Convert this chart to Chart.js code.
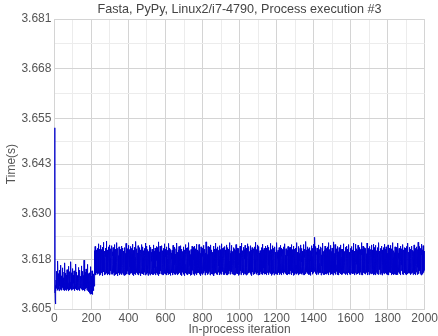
<!DOCTYPE html>
<html>
<head>
<meta charset="utf-8">
<script src="https://cdn.jsdelivr.net/npm/chart.js@4/dist/chart.umd.min.js"></script>
<style>
  html, body { margin: 0; padding: 0; background: #fff; }
  #wrap { width: 438px; height: 336px; position: relative; }
</style>
</head>
<body>
<div id="wrap"><canvas id="chart"></canvas></div>
<script>
// chart text
var chartTitle = 'Fasta, PyPy, Linux2/i7-4790, Process execution #3';
var xTitle = 'In-process iteration';
var yTitle = 'Time(s)';

// axis ticks
var yTickLabels = ['3.605', '3.618', '3.630', '3.643', '3.655', '3.668', '3.681'];
var xTickLabels = [0, 200, 400, 600, 800, 1000, 1200, 1400, 1600, 1800, 2000];

// time per iteration, in 0.1 ms above 3.600 s
var warmup = [525, 118, 104, 92, 71, 63, 88, 112, 97, 126, 108,
  131,104,149,112,99,138,121,107,176,115,102,143,109,127,98,152,118,105,134,111,
  146,101,123,108,165,114,99,137,120,103,128,112,158,106,141,117,100,132,109,124,
  103,147,119,98,136,113,171,105,129,110,144,101,122,139,107,116,99,153,112,126,
  108,134,102,119,162,111,97,140,125,104,131,115,148,100,121,109,137,103,174,118,
  127,99,145,112,106,133,120,101,156,114,108,139,102,124,117,150,105,129,111,98,
  142,116,103,135,109,168,121,100,131,113,147,104,126,110,99,138,119,106,159,115,
  101,130,112,144,107,123,98,152,117,105,136,110,127,102,163,114,108,141,120,99,
  134,111,104,149,116,125,100,138,109,178,113,106,132,121,97,146,118,103,129,112,
  155,105,123,110,140,99,119,133,107,167,114,101,128,116,143,96,124,109,137,92,
  118,145,89,127,104,161,112,95,136,108,122,90,150,113,99,131,88,119,142,106,
  125,98,134,110];

var steady = [
  188,147,203,159,142,214,171,150,196,139,182,205,155,144,193,167,209,148,176,141,
  199,158,143,221,165,151,190,138,207,173,146,185,201,153,140,217,162,149,194,178,
  145,206,169,137,189,212,156,143,198,164,151,225,147,183,139,202,171,154,192,146,
  210,160,141,187,199,149,228,166,144,181,205,152,139,196,175,148,213,158,142,191,
  170,203,146,155,218,139,184,197,150,162,208,143,179,194,153,141,216,167,148,200,
  141,189,211,157,145,173,204,138,193,168,152,219,147,186,160,140,207,178,149,195,
  163,142,224,171,150,198,137,185,209,155,144,190,176,151,213,146,168,201,139,182,
  206,154,143,195,167,148,215,140,179,199,158,145,187,210,152,164,141,202,174,147,
  192,138,211,161,150,184,205,144,170,196,153,139,222,166,148,189,157,142,208,180,
  149,201,163,141,217,156,145,193,172,139,206,185,150,160,198,143,214,168,147,188,
  177,144,209,158,151,195,140,183,220,162,146,191,204,153,138,170,199,149,212,164,
  143,186,202,154,140,227,169,148,193,159,145,208,176,141,197,183,152,216,161,147,
  200,139,174,211,155,144,189,166,150,205,137,181,196,158,143,219,171,149,192,162,
  148,213,160,142,184,203,153,140,198,175,146,209,165,151,190,139,223,170,145,186,
  159,197,141,178,215,149,163,206,144,187,154,138,201,172,147,194,161,143,217,180,
  204,152,139,191,168,145,212,157,150,183,199,142,175,207,148,164,140,196,185,153,
  140,218,166,149,188,202,143,171,158,210,146,180,197,139,161,214,154,144,193,177,
  211,147,182,160,141,205,169,151,226,138,189,173,145,200,156,142,215,163,150,194,
  165,142,199,184,148,155,216,140,178,203,151,167,144,209,186,139,192,158,147,221,
  143,195,162,152,207,174,141,187,198,146,159,213,150,139,181,204,155,144,190,170,
  198,156,140,222,167,148,193,179,142,210,160,151,185,138,206,172,145,197,163,149,
  181,204,146,161,192,139,217,153,144,188,200,157,141,175,212,148,166,194,140,183,
  150,171,208,143,186,158,147,223,165,139,199,178,152,145,205,161,190,142,214,168,
  209,145,176,197,154,140,183,216,149,162,191,143,207,170,138,185,156,201,146,173,
  162,189,141,213,160,151,198,137,180,205,148,167,219,144,158,193,175,141,210,152,
  147,200,184,139,169,211,155,143,196,173,150,224,159,142,187,203,146,164,190,138,
  193,153,142,206,177,148,189,162,140,215,168,151,182,199,145,157,212,141,179,195,
  138,174,215,150,163,194,143,208,171,147,185,160,139,220,176,152,198,144,166,205,
  186,161,145,201,149,157,219,142,191,167,141,206,183,150,173,196,138,213,159,148,
  204,143,179,166,152,210,140,188,202,155,146,170,217,144,194,162,149,185,207,139,
  168,197,150,141,226,164,153,184,145,209,175,140,193,158,151,214,171,143,200,181,
  145,212,159,148,190,203,139,177,163,152,218,147,186,198,142,169,205,156,141,192,
  199,157,144,180,215,149,166,137,207,188,154,143,196,172,160,223,145,183,151,202,
  155,141,208,170,147,195,182,140,213,161,150,191,204,146,163,178,139,216,168,153,
  190,206,152,143,174,199,158,145,221,167,141,187,209,155,148,194,162,140,211,176,
  142,183,169,156,214,140,197,175,149,205,160,144,189,218,153,139,201,173,147,186,
  211,151,139,198,165,146,207,184,143,176,193,157,150,224,141,170,196,161,148,203,
  160,195,148,217,155,142,186,201,152,164,141,211,179,145,192,168,139,208,183,150,
  177,140,204,189,147,158,219,143,172,198,156,149,210,165,142,185,203,151,138,194,
  147,209,164,141,196,180,153,144,215,171,150,187,199,140,162,223,157,146,191,174,
  203,156,145,185,166,139,212,176,151,194,143,206,160,148,181,217,142,170,198,154,
  139,192,210,148,173,159,141,221,167,152,200,184,144,163,195,150,214,146,178,201,
  170,149,197,158,143,216,182,140,205,165,154,189,138,211,175,147,196,161,145,208,
  195,163,140,204,187,150,169,213,142,180,199,156,146,225,160,141,190,172,153,206,
  151,218,174,145,192,139,207,162,149,184,214,143,168,197,155,140,203,179,148,188,
  184,142,200,166,153,211,146,175,194,140,220,159,150,182,205,144,171,157,209,141,
  158,206,147,193,170,142,189,215,151,163,198,139,210,176,145,186,160,152,217,167,
  212,151,188,140,164,203,155,146,197,181,143,222,161,149,193,170,138,206,185,154,
  146,178,216,157,141,195,168,152,209,144,186,201,139,175,162,148,213,190,143,199,
  191,160,143,208,179,150,141,224,166,155,199,140,182,204,153,145,193,171,160,211,
  140,201,186,149,168,217,143,158,194,177,146,210,162,139,188,206,152,164,145,196,
  205,147,170,197,141,213,160,151,183,146,221,167,143,191,175,150,208,156,140,187,
  166,193,145,204,158,139,189,214,148,172,200,155,142,211,164,179,141,197,183,151,
  150,212,176,143,198,162,147,219,140,185,206,159,145,171,194,138,215,168,153,190,
  182,155,140,207,170,152,196,143,178,210,149,165,187,141,224,160,146,199,174,157,
  144,188,203,160,147,214,139,182,196,153,142,176,209,150,167,191,143,218,161,148,
  209,141,173,189,156,145,202,168,140,219,181,151,194,162,147,207,178,139,185,200,
  157,198,150,142,227,171,146,190,205,154,161,143,213,185,149,196,140,172,208,163,
  194,166,145,211,180,141,186,159,152,203,138,176,199,147,216,164,150,189,142,205,
  141,209,188,153,169,196,144,220,162,148,183,207,238,174,195,155,143,214,170,149,
  200,150,139,193,210,157,146,180,165,141,218,186,151,198,143,170,206,159,145,191,
  168,182,213,145,160,201,139,175,192,149,163,210,144,187,155,223,146,178,201,140,
  147,196,163,140,205,176,152,215,148,184,199,157,142,192,168,141,209,181,150,203,
  213,154,144,188,171,139,224,160,149,197,146,179,206,153,165,191,140,217,172,145,
  176,142,201,161,150,210,185,143,195,158,139,204,170,152,226,147,183,196,144,165,
  152,219,173,146,187,199,141,166,208,155,148,193,177,140,214,163,151,200,186,142,
  195,164,139,211,157,145,190,205,150,174,142,218,169,147,186,198,155,140,207,179,
  141,186,207,152,162,196,144,179,221,160,149,201,143,183,171,154,212,140,193,168,
  204,151,176,143,215,182,147,165,198,139,207,160,152,190,176,145,219,163,141,197,
  165,199,148,188,140,209,171,156,144,214,180,150,196,162,142,205,187,149,168,223,
  143,210,161,151,193,176,139,202,185,147,220,158,145,189,172,141,208,196,154,167,
  190,148,204,169,142,217,155,183,199,144,163,211,150,177,140,194,206,157,146,182,
  158,175,140,224,166,149,192,207,143,171,186,139,215,160,153,198,145,181,203,151,
  211,143,187,157,145,200,178,141,209,164,152,195,170,146,223,155,139,189,174,162,
  147,196,209,150,167,140,214,181,153,190,144,206,162,149,177,201,142,218,159,185,
  186,160,143,205,174,154,196,139,220,168,145,183,211,152,160,141,199,176,148,207,
  139,217,170,146,189,203,151,165,142,211,179,155,198,143,172,192,160,140,224,166,
  202,153,180,198,141,162,209,147,186,157,144,215,168,150,194,139,205,183,154,171,
  164,189,145,211,176,150,142,199,165,220,148,180,207,144,158,193,149,213,170,141,
  149,206,161,140,196,184,155,218,143,172,201,153,139,188,210,162,146,179,197,152,
  193,145,217,168,151,180,139,208,163,147,224,171,156,195,142,185,203,150,166,140,
  171,198,152,189,143,213,160,145,200,177,141,191,212,149,164,140,207,186,155,196,
  140,223,176,154,197,146,182,209,143,168,190,157,148,215,162,139,201,174,151,187,
  208,150,165,203,141,178,194,152,219,144,170,186,140,205,158,147,192,211,145,173,
  156,184,141,210,169,153,197,139,181,214,148,163,200,151,142,223,175,160,189,144,
  199,163,148,186,212,144,171,195,156,140,207,182,150,166,197,143,215,159,146,188,
  145,204,187,140,176,201,157,149,218,165,142,190,173,152,209,139,184,198,161,147,
  181,152,213,167,145,193,140,206,176,159,225,148,171,187,143,202,163,150,214,177,
  163,196,143,209,184,151,139,220,168,147,192,205,155,141,180,197,148,216,170,154,
  189,146,202,165,151];

var times = warmup.concat(steady).map(function(v) { return 3.6 + v / 10000; });
var points = times.map(function(t, i) { return { x: i, y: t }; });

var yMajor = yTickLabels.map(Number);
var yTickValues = [];
yMajor.forEach(function(v, i) {
    yTickValues.push(v);
    if (i < yMajor.length - 1) yTickValues.push((v + yMajor[i + 1]) / 2);
});

var family = "'Liberation Sans', Arial, sans-serif";
var font = { family: family, size: 12, lineHeight: 1 };

new Chart(document.getElementById('chart'), {
    type: 'line',
    data: {
        datasets: [{
            data: points,
            borderColor: '#0000cc',
            borderWidth: 1,
            pointRadius: 0,
            tension: 0,
            fill: false
        }]
    },
    options: {
        responsive: true,
        maintainAspectRatio: false,
        animation: false,
        events: [],
        plugins: { legend: { display: false }, title: { display: false }, tooltip: { enabled: false } },
        scales: {
            x: {
                type: 'linear',
                min: 0,
                max: 2000,
                afterBuildTicks: function(scale) {
                    var t = [];
                    for (var v = 0; v <= 2000; v += 100) t.push({ value: v });
                    scale.ticks = t;
                },
                ticks: {
                    autoSkip: false,
                    maxRotation: 0,
                    padding: 0,
                    color: '#555',
                    font: { family: family, size: 12, lineHeight: 20 / 12 },
                    callback: function(v) {
                        return xTickLabels.indexOf(v) >= 0 ? String(v) : '';
                    }
                },
                grid: {
                    drawTicks: false,
                    color: function(ctx) {
                        return ctx.tick && ctx.tick.value % 200 === 0 ? '#d4d4d4' : '#ececec';
                    }
                },
                border: { color: '#d4d4d4' },
                title: { display: true, text: xTitle, color: '#555', font: font, padding: { top: -5, bottom: 0 } }
            },
            xTop: {
                type: 'linear',
                position: 'top',
                ticks: { display: false },
                grid: { display: false, drawTicks: false },
                border: { display: false },
                title: { display: true, text: chartTitle, color: '#444', font: { family: family, size: 12.6 }, padding: { top: 2, bottom: 2 } }
            },
            y: {
                min: 3.605,
                max: 3.681,
                afterBuildTicks: function(scale) {
                    scale.ticks = yTickValues.map(function(v) { return { value: v }; });
                },
                ticks: {
                    autoSkip: false,
                    padding: 3,
                    color: '#555',
                    font: font,
                    callback: function(v, i) {
                        return i % 2 === 0 ? yTickLabels[i / 2] : '';
                    }
                },
                grid: {
                    drawTicks: false,
                    color: function(ctx) {
                        return ctx.index % 2 === 0 ? '#d4d4d4' : '#ececec';
                    }
                },
                border: { color: '#d4d4d4' },
                title: { display: true, text: yTitle, color: '#555', font: { family: family, size: 12, lineHeight: 1.2 }, padding: { top: 4, bottom: 0 } }
            }
        }
    }
});
</script>
